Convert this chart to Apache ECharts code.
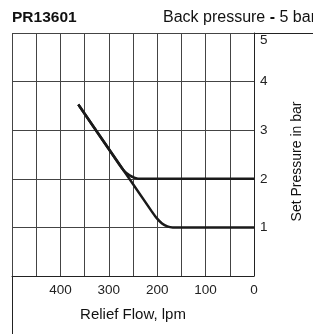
<!DOCTYPE html>
<html lang="en" style="height: 100%">
<head>
    <meta charset="UTF-8">
    <title>PR13601</title>
    <script type="text/javascript" src="https://cdn.jsdelivr.net/npm/echarts@6/dist/echarts.min.js"></script>
</head>
<body style="height: 100%;margin: 0;background:#fff">

<div id="contar" style="width:313px;height:334px"></div>

<script type="text/javascript">
    // set pressure 2 bar curve
    flow2bar = [363, 278, 268, 257, 246, 235, 0];
    pres2bar = [3.53, 2.29, 2.16, 2.07, 2.02, 2.0, 2.0];
    // set pressure 1 bar curve
    flow1bar = [363, 212, 201, 190, 179, 168, 0];
    pres1bar = [3.53, 1.34, 1.19, 1.08, 1.02, 1.0, 1.0];

    xTicks = [0, 100, 200, 300, 400];
    yTicks = [1, 2, 3, 4, 5];

    function pairs(xs, ys) {
        var out = [];
        for (var i = 0; i < xs.length; i++) out.push([xs[i], ys[i]]);
        return out;
    }

    var font = 'Liberation Sans, Arial, sans-serif';
    var chart = echarts.init(document.getElementById('contar'));
    option = {
        animation: false,
        textStyle: {fontFamily: font},
        title: [
            {
                text: 'PR13601',
                left: 12, top: 10, padding: 0,
                textStyle: {fontSize: 15.5, fontWeight: 'bold', color: '#111', fontFamily: font}
            },
            {
                text: '{n|Back pressure }{b|-}{n| 5 bar}',
                left: 163, top: 10, padding: 0,
                textStyle: {
                    fontFamily: font, fontWeight: 'normal', fontSize: 16,
                    rich: {
                        n: {fontSize: 16, color: '#111', fontWeight: 'normal', fontFamily: font},
                        b: {fontSize: 16, color: '#111', fontWeight: 'bold', fontFamily: font}
                    }
                }
            }
        ],
        grid: {left: 12, right: 59, top: 33, bottom: 58},
        xAxis: {
            type: 'value',
            inverse: true,
            min: 0, max: 500, interval: 50,
            name: 'Relief Flow, lpm',
            nameLocation: 'middle',
            nameGap: 31,
            nameTextStyle: {fontSize: 15, color: '#111', fontFamily: font},
            axisLine: {show: true, lineStyle: {color: '#222', width: 1}},
            axisTick: {show: false},
            axisLabel: {
                margin: 7, fontSize: 13.5, color: '#222', fontFamily: font,
                formatter: function (v) { return xTicks.indexOf(v) >= 0 ? v : ''; }
            },
            splitLine: {show: true, lineStyle: {color: '#444', width: 1}}
        },
        yAxis: {
            type: 'value',
            position: 'right',
            min: 0, max: 5, interval: 1,
            name: 'Set Pressure in bar',
            nameLocation: 'middle',
            nameRotate: 90,
            nameGap: 36,
            nameTextStyle: {fontSize: 14, color: '#111', fontFamily: font, padding: [0, 0, 0, -14]},
            axisLine: {show: true, lineStyle: {color: '#222', width: 1}},
            axisTick: {show: false},
            axisLabel: {
                margin: 6, fontSize: 13.5, color: '#222', fontFamily: font,
                verticalAlignMaxLabel: 'top',
                formatter: function (v) { return yTicks.indexOf(v) >= 0 ? v : ''; }
            },
            splitLine: {show: true, lineStyle: {color: '#444', width: 1}}
        },
        graphic: [
            {type: 'line', shape: {x1: 12.5, y1: 33.5, x2: 313, y2: 33.5}, style: {stroke: '#222', lineWidth: 1}},
            {type: 'line', shape: {x1: 12.5, y1: 33, x2: 12.5, y2: 334}, style: {stroke: '#222', lineWidth: 1}}
        ],
        series: [
            {
                type: 'line', data: pairs(flow2bar, pres2bar), showSymbol: false, smooth: 0.2,
                lineStyle: {color: '#1a1a1a', width: 2.5}
            },
            {
                type: 'line', data: pairs(flow1bar, pres1bar), showSymbol: false, smooth: 0.2,
                lineStyle: {color: '#1a1a1a', width: 2.5}
            }
        ]
    };
    chart.setOption(option);
</script>

</body>
</html>
